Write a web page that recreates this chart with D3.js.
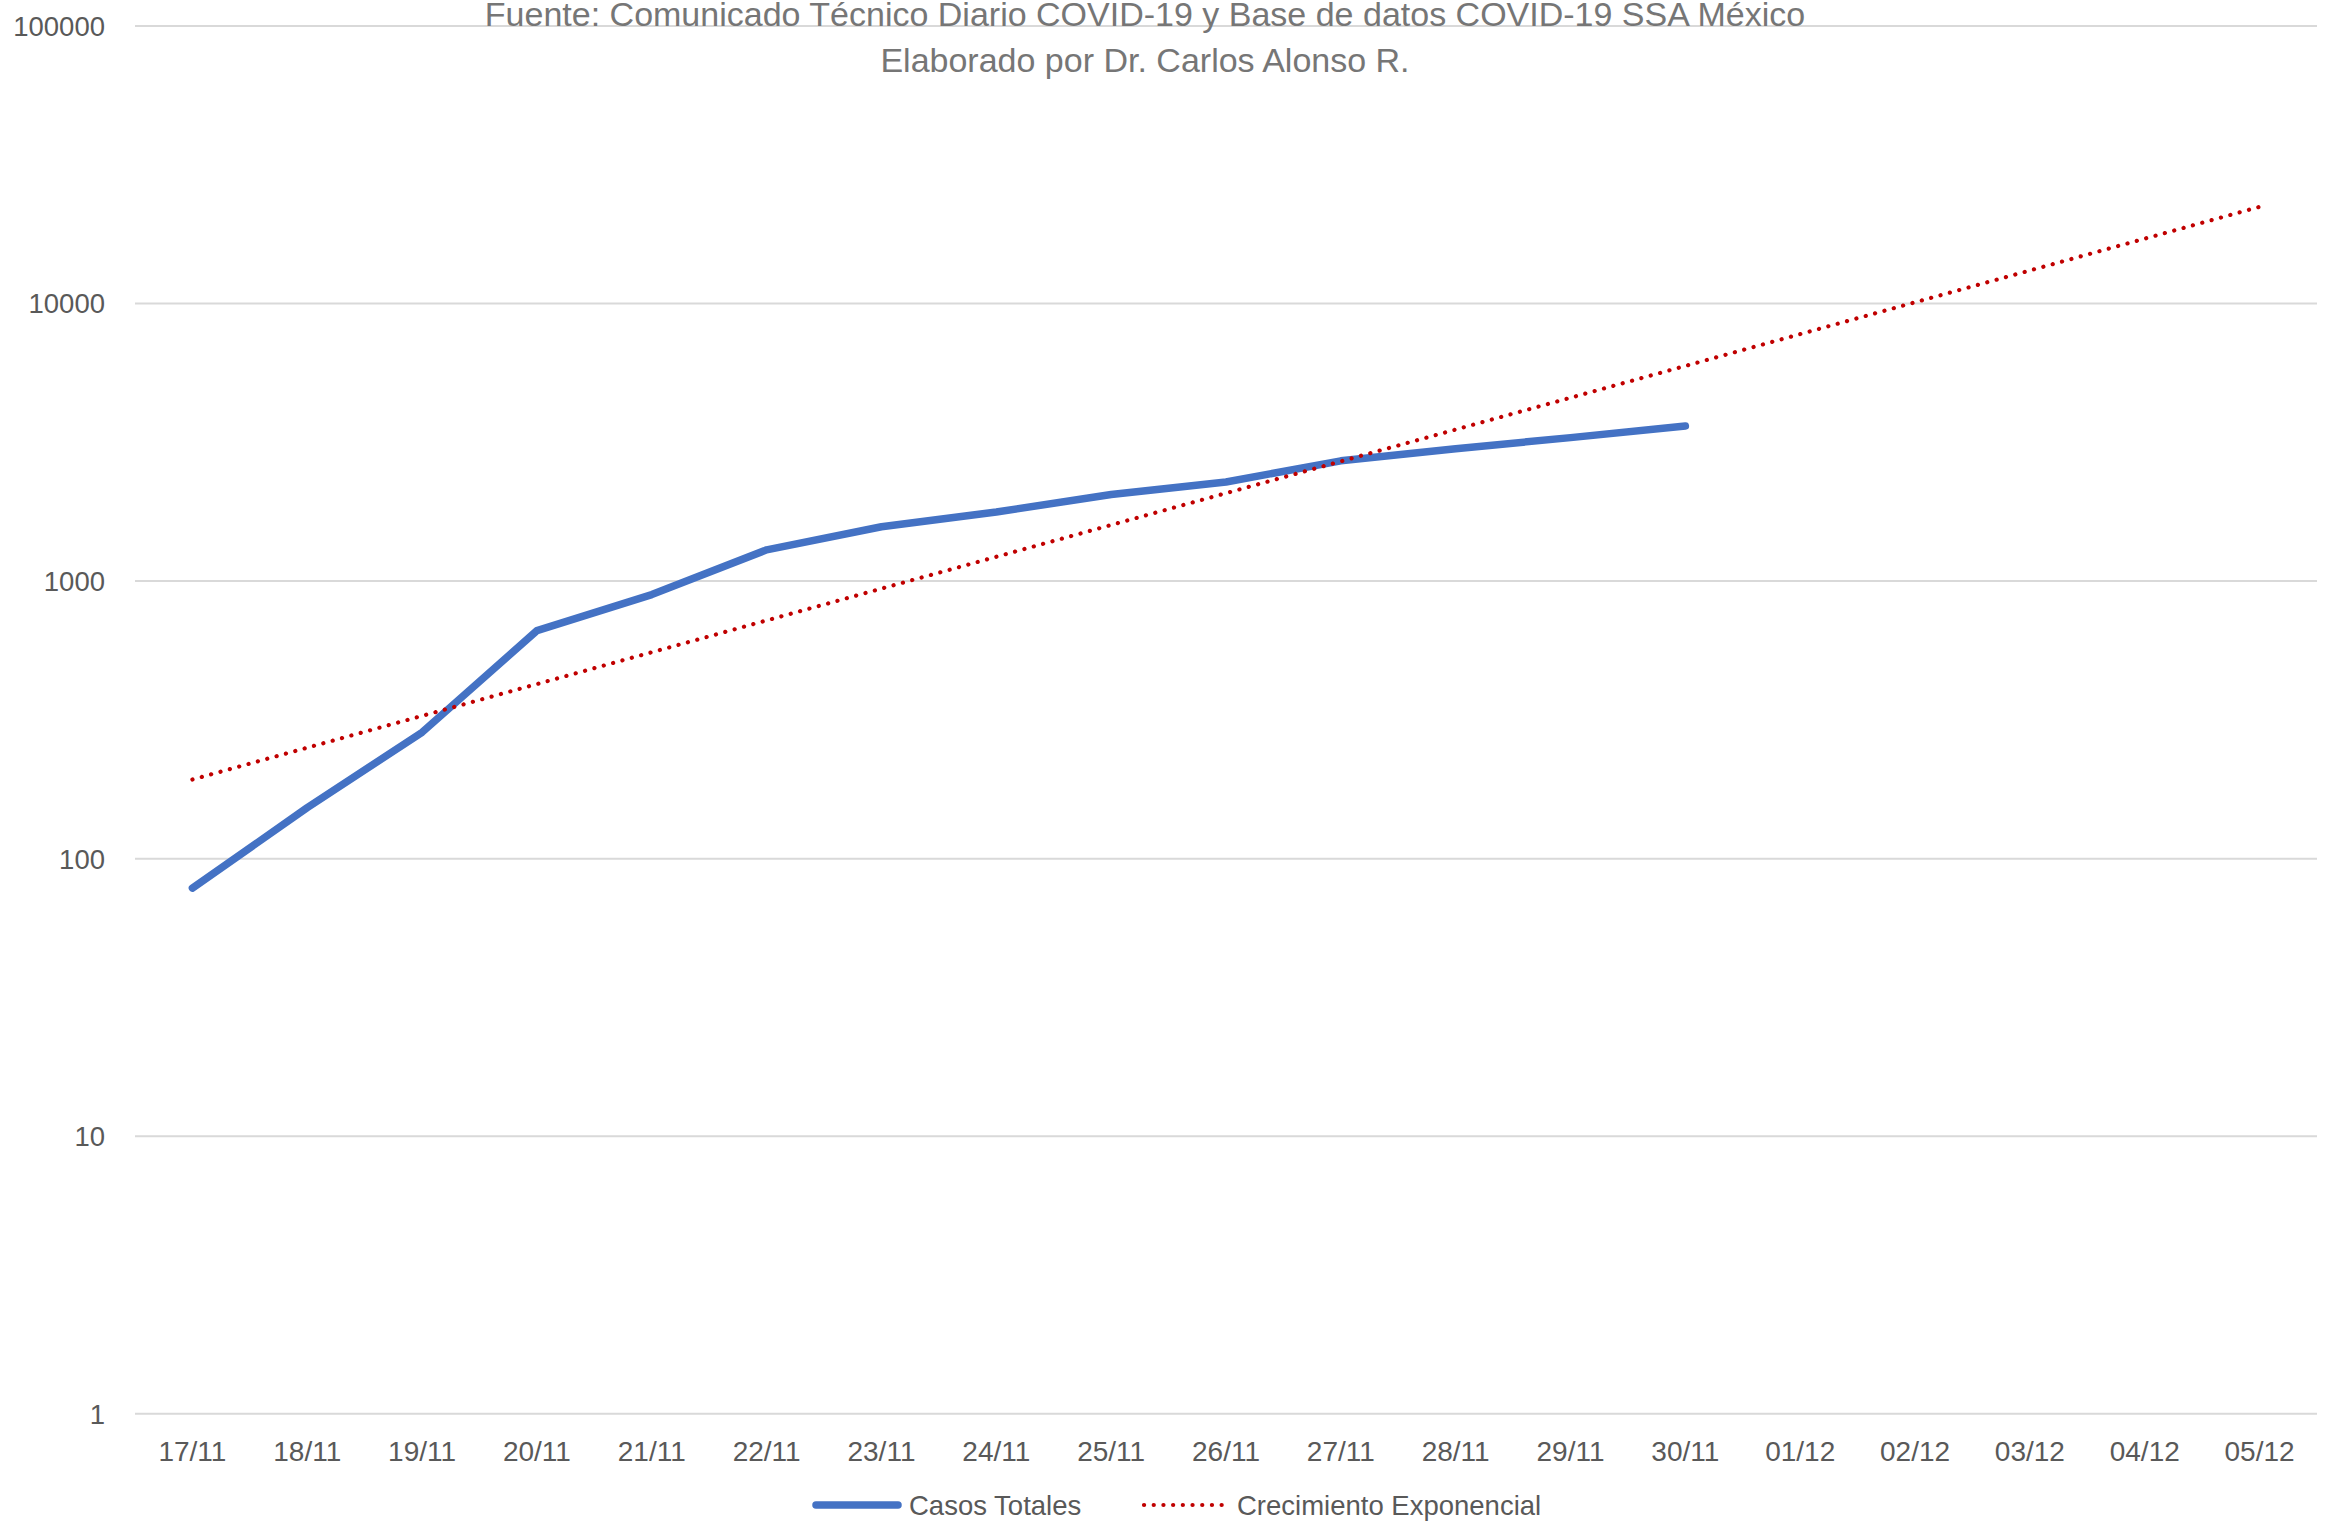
<!DOCTYPE html>
<html>
<head>
<meta charset="utf-8">
<script src="https://cdn.jsdelivr.net/npm/d3@7"></script>
<style>
    html, body { margin: 0; padding: 0; background: #ffffff; }
    svg { display: block; }
</style>
</head>
<body>
<svg id="chart"></svg>
<script>
// categories (x axis)
const dates = ["17/11", "18/11", "19/11", "20/11", "21/11", "22/11", "23/11", "24/11", "25/11",
    "26/11", "27/11", "28/11", "29/11", "30/11", "01/12", "02/12", "03/12", "04/12", "05/12"];

// Casos Totales
const casosTotales = [78, 152, 284, 660, 890, 1290, 1563, 1766, 2042, 2265, 2700, 2986, 3273, 3607];

// Excel exponential trendline (straight on a log axis): its two ends
const trendDates = ["17/11", "05/12"];
const trendValues = [192, 22200];

const yTicks = [1, 10, 100, 1000, 10000, 100000];

const titleLines = [
    "Fuente: Comunicado Técnico Diario COVID-19 y Base de datos COVID-19 SSA México",
    "Elaborado por Dr. Carlos Alonso R."
];
const seriesNames = ["Casos Totales", "Crecimiento Exponencial"];

const W = 2345, H = 1525;
const plot = { left: 135, right: 2317, top: 25.4, bottom: 1413.3 };
const FONT = "'Liberation Sans', Arial, sans-serif";
const BLUE = "#4472C4", RED = "#C00000", GRID = "#D9D9D9", LABEL = "#595959";

const svg = d3.select("svg#chart").attr("width", W).attr("height", H);

const x = d3.scaleBand().domain(dates).range([plot.left, plot.right]).padding(0);
const cx = d => x(d) + x.bandwidth() / 2;
const y = d3.scaleLog().domain([1, 100000]).range([plot.bottom, plot.top]);

// gridlines + y labels
const yAxis = d3.axisLeft(y).tickValues(yTicks).tickSize(-(plot.right - plot.left))
    .tickFormat(d3.format("d")).tickPadding(30);
const gy = svg.append("g").attr("transform", `translate(${plot.left},0)`).call(yAxis);
gy.select(".domain").remove();
gy.selectAll(".tick line").attr("stroke", GRID).attr("stroke-width", 2);
gy.selectAll(".tick text")
    .attr("fill", LABEL).attr("font-family", FONT).attr("font-size", 27.5)
    .attr("dy", "0.36em");

// x labels
const xAxis = d3.axisBottom(x).tickSize(0).tickPadding(0);
const gx = svg.append("g").attr("transform", `translate(0,${plot.bottom})`).call(xAxis);
gx.select(".domain").remove();
gx.selectAll(".tick text")
    .attr("fill", LABEL).attr("font-family", FONT).attr("font-size", 28)
    .attr("y", 48).attr("dy", 0);

// series
const line = d3.line().x(d => cx(d[0])).y(d => y(d[1]));

svg.append("path")
    .datum(d3.zip(dates.slice(0, casosTotales.length), casosTotales))
    .attr("d", line)
    .attr("fill", "none").attr("stroke", BLUE).attr("stroke-width", 7.5)
    .attr("stroke-linejoin", "round").attr("stroke-linecap", "round");

svg.append("path")
    .datum(d3.zip(trendDates, trendValues))
    .attr("d", line)
    .attr("fill", "none").attr("stroke", RED).attr("stroke-width", 4.2)
    .attr("stroke-dasharray", "0.1 9.6").attr("stroke-linecap", "round");

// title (drawn over the top gridline, its top is clipped like the original)
svg.append("g").selectAll("text").data(titleLines).enter().append("text")
    .attr("x", 1145)
    .attr("y", (d, i) => 26 + i * 46)
    .attr("text-anchor", "middle")
    .attr("fill", "#767676").attr("font-family", FONT).attr("font-size", 34)
    .text(d => d);

// legend
const legend = svg.append("g").attr("transform", "translate(0,1505)");
const legendItems = [
    { x: 812, name: seriesNames[0], stroke: BLUE, width: 7.5, dash: null, cap: "round" },
    { x: 1140, name: seriesNames[1], stroke: RED, width: 4.2, dash: "0.1 9.6", cap: "round" }
];
const li = legend.selectAll("g").data(legendItems).enter().append("g")
    .attr("transform", d => `translate(${d.x},0)`);
li.append("line")
    .attr("x1", 4).attr("x2", 86).attr("y1", 0).attr("y2", 0)
    .attr("stroke", d => d.stroke).attr("stroke-width", d => d.width)
    .attr("stroke-dasharray", d => d.dash).attr("stroke-linecap", d => d.cap);
li.append("text")
    .attr("x", 97).attr("y", 0).attr("dy", "0.36em")
    .attr("fill", LABEL).attr("font-family", FONT).attr("font-size", 27.5)
    .text(d => d.name);
</script>
</body>
</html>
